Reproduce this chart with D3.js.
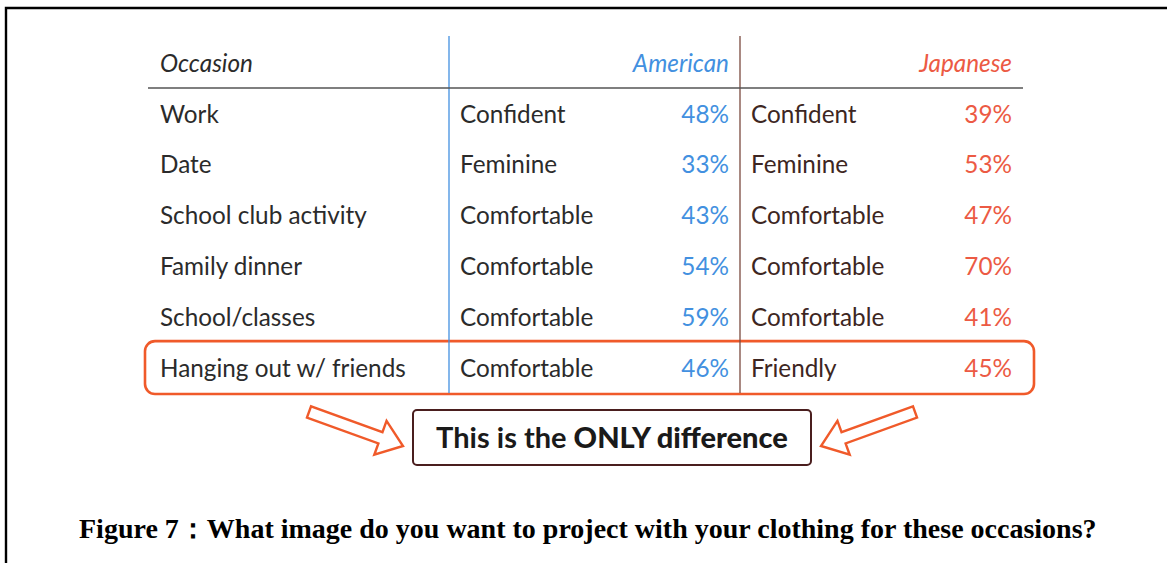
<!DOCTYPE html>
<html>
<head>
<meta charset="utf-8">
<script src="https://cdn.jsdelivr.net/npm/d3@7"></script>
<style>
    body { margin: 0; background: #fff; }
    svg { display: block; }
</style>
</head>
<body>
<div id="chart"></div>
<script>

var occasions = ['Work', 'Date', 'School club activity', 'Family dinner', 'School/classes', 'Hanging out w/ friends'];
var americanImage = ['Confident', 'Feminine', 'Comfortable', 'Comfortable', 'Comfortable', 'Comfortable'];
var americanPct = [48, 33, 43, 54, 59, 46];
var japaneseImage = ['Confident', 'Feminine', 'Comfortable', 'Comfortable', 'Comfortable', 'Friendly'];
var japanesePct = [39, 53, 47, 70, 41, 45];
var headers = ['Occasion', 'American', 'Japanese'];
var highlightRow = 5;
var calloutText = ['This is the ', 'ONLY difference'];
var caption = 'Figure 7\uFF1AWhat image do you want to project with your clothing for these occasions?';

var width = 1167;
var height = 563;

var colors = {
    text: '#2b2b2b',
    textJp: '#3d2622',
    blue: '#4290e0',
    red: '#ec5a44',
    brown: '#7a4a3e',
    rule: '#555',
    highlight: '#f05a2a',
    callout: '#4a1e1e'
};

var svg = d3.select('#chart')
    .append('svg')
    .attr('width', width)
    .attr('height', height);

// page frame (top and left edges only)
svg.append('path')
    .attr('d', 'M6,' + height + 'V8H' + width)
    .attr('fill', 'none')
    .attr('stroke', '#000')
    .attr('stroke-width', 2.4);

var table = svg.append('g')
    .attr('font-family', 'Lato, "Open Sans", sans-serif')
    .attr('font-size', 24.3);

var rowY = d3.scaleBand()
    .domain(d3.range(occasions.length))
    .range([88, 393]);

var baseline = i => rowY(i) + rowY.bandwidth() * 0.68;

// column positions
var col = {
    occLeft: 160,
    amDivider: 449,
    amLeft: 460,
    amRight: 729,
    jpDivider: 740,
    jpLeft: 751,
    jpRight: 1012,
    ruleLeft: 148,
    ruleRight: 1023
};

// highlight box for the differing row
table.append('rect')
    .attr('x', 145)
    .attr('y', rowY(highlightRow) - 1)
    .attr('width', 1034 - 145)
    .attr('height', rowY.bandwidth() + 2)
    .attr('rx', 10)
    .attr('fill', 'none')
    .attr('stroke', colors.highlight)
    .attr('stroke-width', 2.6);

// vertical dividers
table.append('line')
    .attr('x1', col.amDivider).attr('x2', col.amDivider)
    .attr('y1', 36).attr('y2', rowY.range()[1])
    .attr('stroke', colors.blue)
    .attr('stroke-width', 1.3);

table.append('line')
    .attr('x1', col.jpDivider).attr('x2', col.jpDivider)
    .attr('y1', 36).attr('y2', rowY.range()[1])
    .attr('stroke', colors.brown)
    .attr('stroke-width', 1.3);

// header rule
table.append('line')
    .attr('x1', col.ruleLeft).attr('x2', col.ruleRight)
    .attr('y1', rowY.range()[0]).attr('y2', rowY.range()[0])
    .attr('stroke', colors.rule)
    .attr('stroke-width', 1.6);

// headers
var headerY = 72;
table.append('text')
    .attr('x', col.occLeft).attr('y', headerY)
    .attr('font-style', 'italic')
    .attr('fill', colors.text)
    .text(headers[0]);

table.append('text')
    .attr('x', col.amRight).attr('y', headerY)
    .attr('text-anchor', 'end')
    .attr('font-style', 'italic')
    .attr('fill', colors.blue)
    .text(headers[1]);

table.append('text')
    .attr('x', col.jpRight).attr('y', headerY)
    .attr('text-anchor', 'end')
    .attr('font-style', 'italic')
    .attr('fill', colors.red)
    .text(headers[2]);

var rows = table.selectAll('g.row')
    .data(occasions)
    .enter()
    .append('g')
    .attr('class', 'row')
    .attr('transform', (d, i) => 'translate(0,' + baseline(i) + ')');

rows.append('text')
    .attr('x', col.occLeft)
    .attr('fill', colors.text)
    .text(d => d);

rows.append('text')
    .attr('x', col.amLeft)
    .attr('fill', colors.text)
    .text((d, i) => americanImage[i]);

rows.append('text')
    .attr('x', col.amRight)
    .attr('text-anchor', 'end')
    .attr('fill', colors.blue)
    .text((d, i) => americanPct[i] + '%');

rows.append('text')
    .attr('x', col.jpLeft)
    .attr('fill', colors.textJp)
    .text((d, i) => japaneseImage[i]);

rows.append('text')
    .attr('x', col.jpRight)
    .attr('text-anchor', 'end')
    .attr('fill', colors.red)
    .text((d, i) => japanesePct[i] + '%');

// callout box
var box = { x: 413, y: 410, w: 398, h: 55 };

svg.append('rect')
    .attr('x', box.x).attr('y', box.y)
    .attr('width', box.w).attr('height', box.h)
    .attr('rx', 4)
    .attr('fill', '#fff')
    .attr('stroke', colors.callout)
    .attr('stroke-width', 2);

var callout = svg.append('text')
    .attr('x', box.x + box.w / 2)
    .attr('y', box.y + 38)
    .attr('text-anchor', 'middle')
    .attr('font-family', 'Lato, "Open Sans", sans-serif')
    .attr('font-size', 29)
    .attr('font-weight', 'bold')
    .attr('fill', '#1a1a1a');

callout.append('tspan').text(calloutText[0]);
callout.append('tspan').attr('font-weight', 900).text(calloutText[1]);

// outline arrows pointing at the callout
function arrowPath(x0, y0, x1, y1, shaftW, headW, headL) {

    var dx = x1 - x0, dy = y1 - y0;
    var len = Math.sqrt(dx * dx + dy * dy);
    var ux = dx / len, uy = dy / len;
    var nx = -uy, ny = ux;
    var bx = x1 - ux * headL, by = y1 - uy * headL;
    var pts = [
        [x0 + nx * shaftW / 2, y0 + ny * shaftW / 2],
        [bx + nx * shaftW / 2, by + ny * shaftW / 2],
        [bx + nx * headW / 2, by + ny * headW / 2],
        [x1, y1],
        [bx - nx * headW / 2, by - ny * headW / 2],
        [bx - nx * shaftW / 2, by - ny * shaftW / 2],
        [x0 - nx * shaftW / 2, y0 - ny * shaftW / 2]
    ];
    return d3.line()(pts) + 'Z';
}

var arrows = [
    { tip: [box.x - 10, box.y + 36], dir: -1 },
    { tip: [box.x + box.w + 10, box.y + 36], dir: 1 }
];

svg.selectAll('path.arrow')
    .data(arrows)
    .enter()
    .append('path')
    .attr('class', 'arrow')
    .attr('d', d => arrowPath(d.tip[0] + d.dir * 94, d.tip[1] - 34, d.tip[0], d.tip[1], 12, 36, 24))
    .attr('fill', '#fff')
    .attr('stroke', colors.highlight)
    .attr('stroke-width', 2.4)
    .attr('stroke-linejoin', 'miter');

// caption
svg.append('text')
    .attr('x', 79)
    .attr('y', 538)
    .attr('font-family', '"Liberation Serif", "Times New Roman", serif')
    .attr('font-weight', 'bold')
    .attr('font-size', 28)
    .attr('fill', '#000')
    .text(caption);

</script>
</body>
</html>
